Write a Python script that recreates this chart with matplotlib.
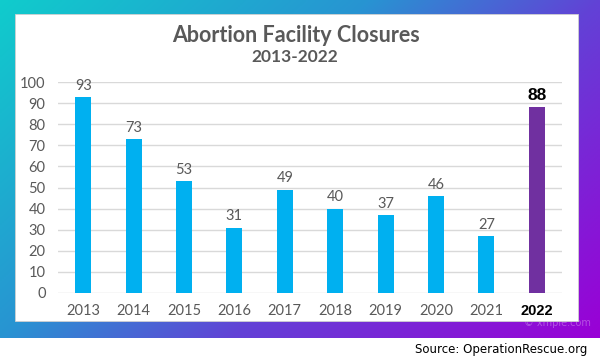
import numpy as np
import matplotlib.pyplot as plt
from matplotlib.patches import Rectangle

years = ['2013', '2014', '2015', '2016', '2017', '2018', '2019', '2020', '2021', '2022']
closures = [93, 73, 53, 31, 49, 40, 37, 46, 27, 88]
yticks = [0, 10, 20, 30, 40, 50, 60, 70, 80, 90, 100]

blue = '#00B0F0'
purple = '#7030A0'
gray = '#595959'
font = 'Lato'
bold_font = 'Liberation Sans'

W, H = 600, 362
fig = plt.figure(figsize=(W / 100, H / 100), dpi=100)
fig.patch.set_facecolor('white')

# gradient frame (cyan top-left -> purple bottom-right)
frame_bottom = (H - 338) / H
bg = fig.add_axes([0, frame_bottom, 1, 1 - frame_bottom])
bg.set_axis_off()
gx, gy = np.meshgrid(np.linspace(0, 1, 300), np.linspace(0, 1, 150))
t = np.clip(0.62 * gx + 0.38 * gy, 0, 1)
stops = [0.0, 0.38, 0.62, 1.0]
cols = np.array([[0x10, 0xCC, 0xCC], [0x28, 0x94, 0xD2],
                 [0x62, 0x42, 0xD6], [0x9A, 0x00, 0xD6]]) / 255
img = np.stack([np.interp(t, stops, cols[:, k]) for k in range(3)], axis=-1)
bg.imshow(img, aspect='auto', extent=[0, 1, 0, 1], origin='upper')
bg.set_xlim(0, 1)
bg.set_ylim(0, 1)
bg.text(0.985, 0.03, '\u00a9 xmple.com', color='white', alpha=0.3, fontsize=7,
        ha='right', va='bottom', transform=bg.transAxes)

# white card
card = Rectangle((15 / W, (H - 321) / H), 563 / W, 307 / H,
                 transform=fig.transFigure, facecolor='white',
                 edgecolor='#d0d0d0', linewidth=0.6, zorder=2)
fig.patches.append(card)

fig.text(296 / W, 1 - 35 / H, 'Abortion Facility Closures', ha='center', va='center',
         fontsize=15.5, fontweight='bold', color=gray, family=font, zorder=5)
fig.text(295 / W, 1 - 57 / H, '2013-2022', ha='center', va='center',
         fontsize=12.5, fontweight='bold', color=gray, family=font, zorder=5)

ax = fig.add_axes([58 / W, (H - 293) / H, 504 / W, 211 / H], zorder=3)
ax.set_facecolor('none')
x = np.arange(len(years))
colors = [blue] * (len(years) - 1) + [purple]
bars = ax.bar(x, closures, width=0.32, color=colors, zorder=3)

for i, (b, v) in enumerate(zip(bars, closures)):
    last = i == len(closures) - 1
    if last:
        kw = dict(fontsize=12.5, fontweight='bold', color='black', family=bold_font)
    else:
        kw = dict(fontsize=10.5, color=gray, family=font)
    ax.annotate(str(v), (b.get_x() + b.get_width() / 2, v), xytext=(0, 3),
                textcoords='offset points', ha='center', va='bottom', **kw)

ax.set_xlim(-0.5, len(years) - 0.5)
ax.set_ylim(0, 100)
ax.set_yticks(yticks)
ax.set_yticklabels([str(v) for v in yticks], family=font, fontsize=10.5, color=gray)
ax.set_xticks(x)
ax.set_xticklabels(years, family=font, fontsize=10.5, color=gray)
lbl = ax.get_xticklabels()[-1]
lbl.set_fontweight('bold')
lbl.set_color('black')
lbl.set_family(bold_font)
lbl.set_fontsize(10.5)
ax.tick_params(length=0, pad=8)
ax.tick_params(axis='y', pad=9)
ax.yaxis.grid(True, color='#D9D9D9', linewidth=1)
ax.set_axisbelow(True)
for s in ax.spines.values():
    s.set_visible(False)

fig.text(587 / W, 1 - 349 / H, 'Source: OperationRescue.org', ha='right', va='center',
         fontsize=8.5, color='black', family='DejaVu Sans')

fig.savefig('out.png', dpi=100)
